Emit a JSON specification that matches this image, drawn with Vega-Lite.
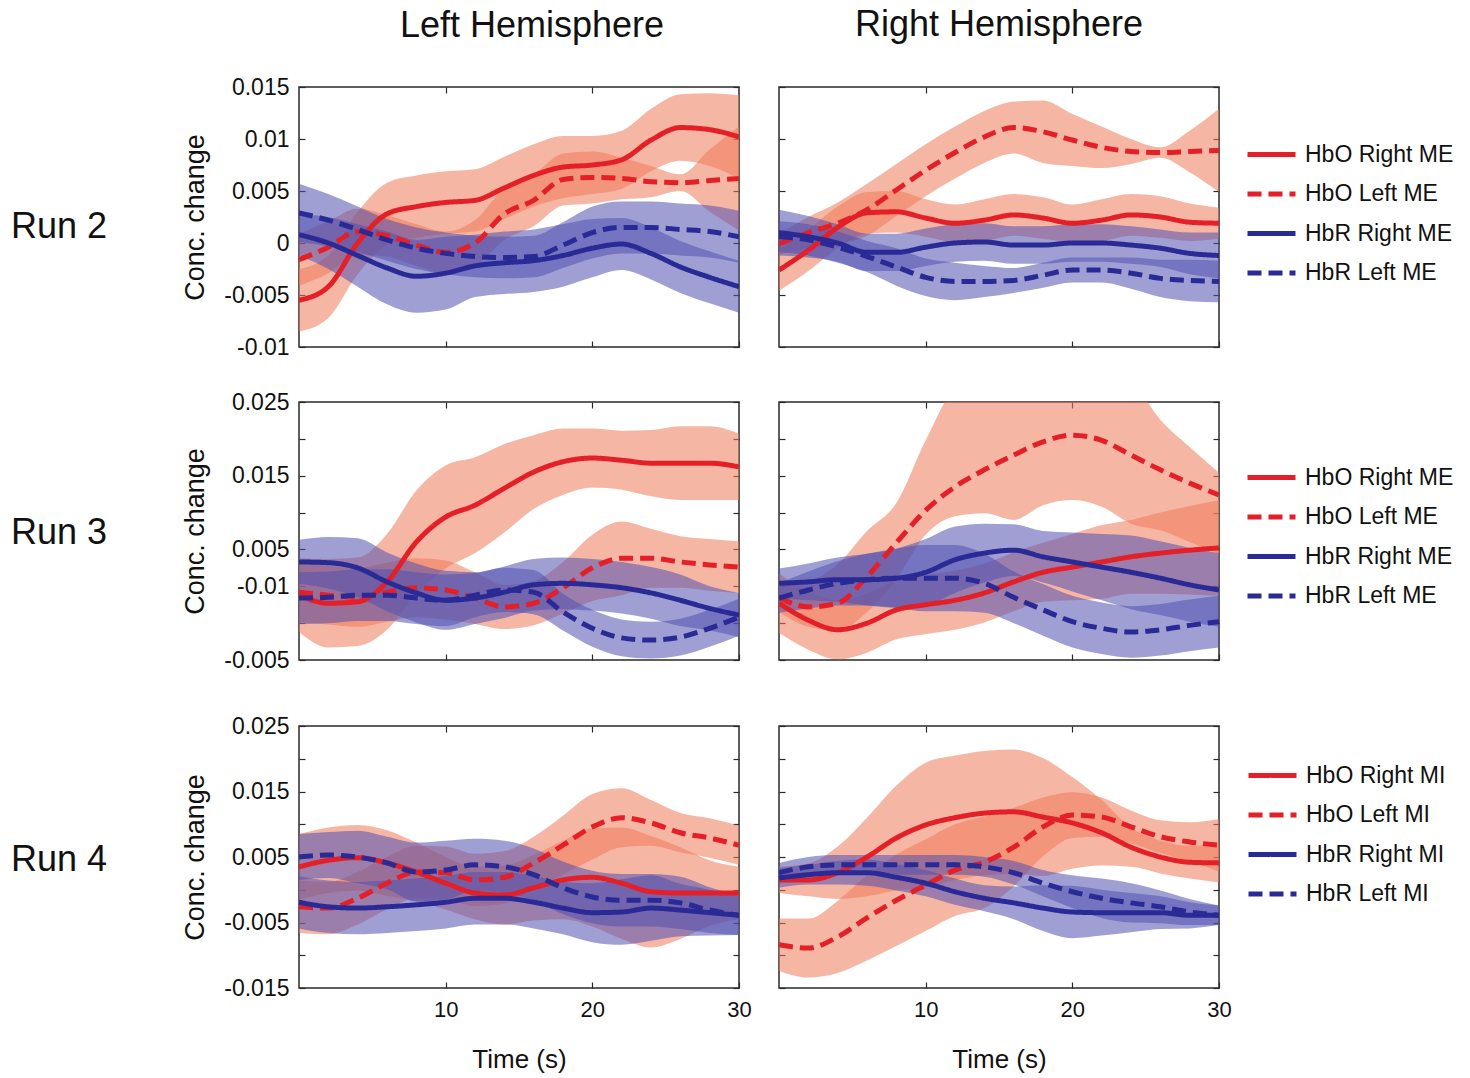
{
"$schema": "https://vega.github.io/schema/vega-lite/v6.json",
"padding": {"left": 10, "top": 6, "right": 10, "bottom": 5},
"config": {
 "font": "Liberation Sans",
 "view": {"stroke": "#2a2a2a", "strokeWidth": 1.5},
 "axis": {"grid": false, "domain": false, "tickSize": -6, "tickColor": "#2a2a2a", "tickWidth": 1.2, "labelFontSize": 23, "labelColor": "#111", "labelPadding": 16, "labelOverlap": false, "labelFlush": false, "titleFontSize": 27, "titleFontWeight": "normal", "titleColor": "#111", "titlePadding": 14},
 "legend": {"symbolType": "stroke", "symbolSize": 2304, "symbolStrokeWidth": 5, "labelFontSize": 23, "labelColor": "#111", "rowPadding": 0.5, "labelOffset": 7, "orient": "right"},
 "title": {"fontSize": 36, "fontWeight": "normal", "color": "#111"}
},
"datasets": {"d": [
{"p":"A","s":"HbO Right ME","t":0,"y":-0.0055,"lo":-0.0085,"hi":-0.0025},
{"p":"A","s":"HbO Right ME","t":2,"y":-0.0042,"lo":-0.0072,"hi":-0.0012},
{"p":"A","s":"HbO Right ME","t":4,"y":0.0000,"lo":-0.0030,"hi":0.0030},
{"p":"A","s":"HbO Right ME","t":6,"y":0.0028,"lo":-0.0002,"hi":0.0058},
{"p":"A","s":"HbO Right ME","t":8,"y":0.0035,"lo":0.0005,"hi":0.0065},
{"p":"A","s":"HbO Right ME","t":10,"y":0.0039,"lo":0.0009,"hi":0.0069},
{"p":"A","s":"HbO Right ME","t":12,"y":0.0041,"lo":0.0011,"hi":0.0071},
{"p":"A","s":"HbO Right ME","t":14,"y":0.0053,"lo":0.0023,"hi":0.0083},
{"p":"A","s":"HbO Right ME","t":16,"y":0.0065,"lo":0.0035,"hi":0.0095},
{"p":"A","s":"HbO Right ME","t":18,"y":0.0073,"lo":0.0043,"hi":0.0103},
{"p":"A","s":"HbO Right ME","t":20,"y":0.0075,"lo":0.0047,"hi":0.0103},
{"p":"A","s":"HbO Right ME","t":22,"y":0.0080,"lo":0.0052,"hi":0.0108},
{"p":"A","s":"HbO Right ME","t":24,"y":0.0099,"lo":0.0069,"hi":0.0129},
{"p":"A","s":"HbO Right ME","t":26,"y":0.0111,"lo":0.0079,"hi":0.0143},
{"p":"A","s":"HbO Right ME","t":28,"y":0.0109,"lo":0.0074,"hi":0.0144},
{"p":"A","s":"HbO Right ME","t":30,"y":0.0102,"lo":0.0062,"hi":0.0142},
{"p":"A","s":"HbO Left ME","t":0,"y":-0.0016,"lo":-0.0041,"hi":0.0009},
{"p":"A","s":"HbO Left ME","t":2,"y":-0.0004,"lo":-0.0029,"hi":0.0021},
{"p":"A","s":"HbO Left ME","t":4,"y":0.0011,"lo":-0.0011,"hi":0.0033},
{"p":"A","s":"HbO Left ME","t":6,"y":0.0007,"lo":-0.0013,"hi":0.0027},
{"p":"A","s":"HbO Left ME","t":8,"y":-0.0002,"lo":-0.0022,"hi":0.0018},
{"p":"A","s":"HbO Left ME","t":10,"y":-0.0009,"lo":-0.0029,"hi":0.0011},
{"p":"A","s":"HbO Left ME","t":12,"y":0.0000,"lo":-0.0022,"hi":0.0022},
{"p":"A","s":"HbO Left ME","t":14,"y":0.0028,"lo":0.0003,"hi":0.0053},
{"p":"A","s":"HbO Left ME","t":16,"y":0.0041,"lo":0.0016,"hi":0.0066},
{"p":"A","s":"HbO Left ME","t":18,"y":0.0061,"lo":0.0036,"hi":0.0086},
{"p":"A","s":"HbO Left ME","t":20,"y":0.0063,"lo":0.0038,"hi":0.0088},
{"p":"A","s":"HbO Left ME","t":22,"y":0.0062,"lo":0.0042,"hi":0.0082},
{"p":"A","s":"HbO Left ME","t":24,"y":0.0059,"lo":0.0044,"hi":0.0074},
{"p":"A","s":"HbO Left ME","t":26,"y":0.0058,"lo":0.0050,"hi":0.0066},
{"p":"A","s":"HbO Left ME","t":28,"y":0.0060,"lo":0.0030,"hi":0.0090},
{"p":"A","s":"HbO Left ME","t":30,"y":0.0062,"lo":0.0012,"hi":0.0112},
{"p":"A","s":"HbR Right ME","t":0,"y":0.0008,"lo":-0.0012,"hi":0.0028},
{"p":"A","s":"HbR Right ME","t":2,"y":0.0000,"lo":-0.0025,"hi":0.0025},
{"p":"A","s":"HbR Right ME","t":4,"y":-0.0012,"lo":-0.0042,"hi":0.0018},
{"p":"A","s":"HbR Right ME","t":6,"y":-0.0024,"lo":-0.0059,"hi":0.0011},
{"p":"A","s":"HbR Right ME","t":8,"y":-0.0032,"lo":-0.0067,"hi":0.0003},
{"p":"A","s":"HbR Right ME","t":10,"y":-0.0029,"lo":-0.0064,"hi":0.0006},
{"p":"A","s":"HbR Right ME","t":12,"y":-0.0022,"lo":-0.0052,"hi":0.0008},
{"p":"A","s":"HbR Right ME","t":14,"y":-0.0019,"lo":-0.0049,"hi":0.0011},
{"p":"A","s":"HbR Right ME","t":16,"y":-0.0017,"lo":-0.0047,"hi":0.0013},
{"p":"A","s":"HbR Right ME","t":18,"y":-0.0012,"lo":-0.0042,"hi":0.0018},
{"p":"A","s":"HbR Right ME","t":20,"y":-0.0005,"lo":-0.0033,"hi":0.0023},
{"p":"A","s":"HbR Right ME","t":22,"y":-0.0001,"lo":-0.0026,"hi":0.0024},
{"p":"A","s":"HbR Right ME","t":24,"y":-0.0010,"lo":-0.0035,"hi":0.0015},
{"p":"A","s":"HbR Right ME","t":26,"y":-0.0023,"lo":-0.0048,"hi":0.0002},
{"p":"A","s":"HbR Right ME","t":28,"y":-0.0033,"lo":-0.0058,"hi":-0.0008},
{"p":"A","s":"HbR Right ME","t":30,"y":-0.0042,"lo":-0.0067,"hi":-0.0017},
{"p":"A","s":"HbR Left ME","t":0,"y":0.0029,"lo":0.0001,"hi":0.0057},
{"p":"A","s":"HbR Left ME","t":2,"y":0.0022,"lo":-0.0003,"hi":0.0047},
{"p":"A","s":"HbR Left ME","t":4,"y":0.0013,"lo":-0.0009,"hi":0.0035},
{"p":"A","s":"HbR Left ME","t":6,"y":0.0003,"lo":-0.0017,"hi":0.0023},
{"p":"A","s":"HbR Left ME","t":8,"y":-0.0005,"lo":-0.0025,"hi":0.0015},
{"p":"A","s":"HbR Left ME","t":10,"y":-0.0010,"lo":-0.0030,"hi":0.0010},
{"p":"A","s":"HbR Left ME","t":12,"y":-0.0013,"lo":-0.0033,"hi":0.0007},
{"p":"A","s":"HbR Left ME","t":14,"y":-0.0014,"lo":-0.0034,"hi":0.0006},
{"p":"A","s":"HbR Left ME","t":16,"y":-0.0013,"lo":-0.0033,"hi":0.0007},
{"p":"A","s":"HbR Left ME","t":18,"y":-0.0002,"lo":-0.0024,"hi":0.0020},
{"p":"A","s":"HbR Left ME","t":20,"y":0.0010,"lo":-0.0015,"hi":0.0035},
{"p":"A","s":"HbR Left ME","t":22,"y":0.0015,"lo":-0.0010,"hi":0.0040},
{"p":"A","s":"HbR Left ME","t":24,"y":0.0015,"lo":-0.0010,"hi":0.0040},
{"p":"A","s":"HbR Left ME","t":26,"y":0.0013,"lo":-0.0012,"hi":0.0038},
{"p":"A","s":"HbR Left ME","t":28,"y":0.0011,"lo":-0.0014,"hi":0.0036},
{"p":"A","s":"HbR Left ME","t":30,"y":0.0006,"lo":-0.0019,"hi":0.0031},
{"p":"B","s":"HbO Right ME","t":0,"y":-0.0026,"lo":-0.0046,"hi":-0.0006},
{"p":"B","s":"HbO Right ME","t":2,"y":-0.0007,"lo":-0.0027,"hi":0.0013},
{"p":"B","s":"HbO Right ME","t":4,"y":0.0015,"lo":-0.0005,"hi":0.0035},
{"p":"B","s":"HbO Right ME","t":6,"y":0.0029,"lo":0.0009,"hi":0.0049},
{"p":"B","s":"HbO Right ME","t":8,"y":0.0030,"lo":0.0010,"hi":0.0050},
{"p":"B","s":"HbO Right ME","t":10,"y":0.0024,"lo":0.0006,"hi":0.0042},
{"p":"B","s":"HbO Right ME","t":12,"y":0.0019,"lo":0.0001,"hi":0.0037},
{"p":"B","s":"HbO Right ME","t":14,"y":0.0022,"lo":0.0002,"hi":0.0042},
{"p":"B","s":"HbO Right ME","t":16,"y":0.0027,"lo":0.0007,"hi":0.0047},
{"p":"B","s":"HbO Right ME","t":18,"y":0.0024,"lo":0.0004,"hi":0.0044},
{"p":"B","s":"HbO Right ME","t":20,"y":0.0019,"lo":0.0001,"hi":0.0037},
{"p":"B","s":"HbO Right ME","t":22,"y":0.0022,"lo":0.0002,"hi":0.0042},
{"p":"B","s":"HbO Right ME","t":24,"y":0.0027,"lo":0.0007,"hi":0.0047},
{"p":"B","s":"HbO Right ME","t":26,"y":0.0025,"lo":0.0005,"hi":0.0045},
{"p":"B","s":"HbO Right ME","t":28,"y":0.0020,"lo":0.0002,"hi":0.0038},
{"p":"B","s":"HbO Right ME","t":30,"y":0.0019,"lo":0.0004,"hi":0.0034},
{"p":"B","s":"HbO Left ME","t":0,"y":-0.0001,"lo":-0.0011,"hi":0.0009},
{"p":"B","s":"HbO Left ME","t":2,"y":0.0010,"lo":-0.0005,"hi":0.0025},
{"p":"B","s":"HbO Left ME","t":4,"y":0.0019,"lo":-0.0001,"hi":0.0039},
{"p":"B","s":"HbO Left ME","t":6,"y":0.0032,"lo":0.0007,"hi":0.0057},
{"p":"B","s":"HbO Left ME","t":8,"y":0.0051,"lo":0.0026,"hi":0.0076},
{"p":"B","s":"HbO Left ME","t":10,"y":0.0070,"lo":0.0045,"hi":0.0095},
{"p":"B","s":"HbO Left ME","t":12,"y":0.0087,"lo":0.0062,"hi":0.0112},
{"p":"B","s":"HbO Left ME","t":14,"y":0.0102,"lo":0.0077,"hi":0.0127},
{"p":"B","s":"HbO Left ME","t":16,"y":0.0111,"lo":0.0086,"hi":0.0136},
{"p":"B","s":"HbO Left ME","t":18,"y":0.0107,"lo":0.0077,"hi":0.0137},
{"p":"B","s":"HbO Left ME","t":20,"y":0.0099,"lo":0.0074,"hi":0.0124},
{"p":"B","s":"HbO Left ME","t":22,"y":0.0092,"lo":0.0072,"hi":0.0112},
{"p":"B","s":"HbO Left ME","t":24,"y":0.0088,"lo":0.0076,"hi":0.0100},
{"p":"B","s":"HbO Left ME","t":26,"y":0.0087,"lo":0.0082,"hi":0.0092},
{"p":"B","s":"HbO Left ME","t":28,"y":0.0088,"lo":0.0068,"hi":0.0108},
{"p":"B","s":"HbO Left ME","t":30,"y":0.0089,"lo":0.0049,"hi":0.0129},
{"p":"B","s":"HbR Right ME","t":0,"y":0.0010,"lo":-0.0012,"hi":0.0032},
{"p":"B","s":"HbR Right ME","t":2,"y":0.0006,"lo":-0.0014,"hi":0.0026},
{"p":"B","s":"HbR Right ME","t":4,"y":0.0000,"lo":-0.0018,"hi":0.0018},
{"p":"B","s":"HbR Right ME","t":6,"y":-0.0009,"lo":-0.0027,"hi":0.0009},
{"p":"B","s":"HbR Right ME","t":8,"y":-0.0009,"lo":-0.0027,"hi":0.0009},
{"p":"B","s":"HbR Right ME","t":10,"y":-0.0004,"lo":-0.0022,"hi":0.0014},
{"p":"B","s":"HbR Right ME","t":12,"y":0.0000,"lo":-0.0018,"hi":0.0018},
{"p":"B","s":"HbR Right ME","t":14,"y":0.0001,"lo":-0.0017,"hi":0.0019},
{"p":"B","s":"HbR Right ME","t":16,"y":-0.0002,"lo":-0.0020,"hi":0.0016},
{"p":"B","s":"HbR Right ME","t":18,"y":-0.0002,"lo":-0.0020,"hi":0.0016},
{"p":"B","s":"HbR Right ME","t":20,"y":0.0000,"lo":-0.0018,"hi":0.0018},
{"p":"B","s":"HbR Right ME","t":22,"y":0.0000,"lo":-0.0018,"hi":0.0018},
{"p":"B","s":"HbR Right ME","t":24,"y":-0.0002,"lo":-0.0020,"hi":0.0016},
{"p":"B","s":"HbR Right ME","t":26,"y":-0.0005,"lo":-0.0023,"hi":0.0013},
{"p":"B","s":"HbR Right ME","t":28,"y":-0.0010,"lo":-0.0030,"hi":0.0010},
{"p":"B","s":"HbR Right ME","t":30,"y":-0.0012,"lo":-0.0034,"hi":0.0010},
{"p":"B","s":"HbR Left ME","t":0,"y":0.0006,"lo":-0.0009,"hi":0.0021},
{"p":"B","s":"HbR Left ME","t":2,"y":0.0003,"lo":-0.0012,"hi":0.0018},
{"p":"B","s":"HbR Left ME","t":4,"y":-0.0004,"lo":-0.0019,"hi":0.0011},
{"p":"B","s":"HbR Left ME","t":6,"y":-0.0013,"lo":-0.0028,"hi":0.0002},
{"p":"B","s":"HbR Left ME","t":8,"y":-0.0023,"lo":-0.0041,"hi":-0.0005},
{"p":"B","s":"HbR Left ME","t":10,"y":-0.0033,"lo":-0.0051,"hi":-0.0015},
{"p":"B","s":"HbR Left ME","t":12,"y":-0.0037,"lo":-0.0055,"hi":-0.0019},
{"p":"B","s":"HbR Left ME","t":14,"y":-0.0037,"lo":-0.0052,"hi":-0.0022},
{"p":"B","s":"HbR Left ME","t":16,"y":-0.0036,"lo":-0.0048,"hi":-0.0024},
{"p":"B","s":"HbR Left ME","t":18,"y":-0.0031,"lo":-0.0043,"hi":-0.0019},
{"p":"B","s":"HbR Left ME","t":20,"y":-0.0026,"lo":-0.0038,"hi":-0.0014},
{"p":"B","s":"HbR Left ME","t":22,"y":-0.0026,"lo":-0.0038,"hi":-0.0014},
{"p":"B","s":"HbR Left ME","t":24,"y":-0.0029,"lo":-0.0044,"hi":-0.0014},
{"p":"B","s":"HbR Left ME","t":26,"y":-0.0034,"lo":-0.0052,"hi":-0.0016},
{"p":"B","s":"HbR Left ME","t":28,"y":-0.0036,"lo":-0.0056,"hi":-0.0016},
{"p":"B","s":"HbR Left ME","t":30,"y":-0.0037,"lo":-0.0057,"hi":-0.0017},
{"p":"C","s":"HbO Right ME","t":0,"y":-0.0012,"lo":-0.0062,"hi":0.0038},
{"p":"C","s":"HbO Right ME","t":2,"y":-0.0023,"lo":-0.0083,"hi":0.0037},
{"p":"C","s":"HbO Right ME","t":4,"y":-0.0021,"lo":-0.0081,"hi":0.0039},
{"p":"C","s":"HbO Right ME","t":6,"y":0.0006,"lo":-0.0059,"hi":0.0071},
{"p":"C","s":"HbO Right ME","t":8,"y":0.0060,"lo":-0.0010,"hi":0.0130},
{"p":"C","s":"HbO Right ME","t":10,"y":0.0094,"lo":0.0024,"hi":0.0164},
{"p":"C","s":"HbO Right ME","t":12,"y":0.0110,"lo":0.0045,"hi":0.0175},
{"p":"C","s":"HbO Right ME","t":14,"y":0.0133,"lo":0.0073,"hi":0.0193},
{"p":"C","s":"HbO Right ME","t":16,"y":0.0155,"lo":0.0105,"hi":0.0205},
{"p":"C","s":"HbO Right ME","t":18,"y":0.0169,"lo":0.0124,"hi":0.0214},
{"p":"C","s":"HbO Right ME","t":20,"y":0.0174,"lo":0.0134,"hi":0.0214},
{"p":"C","s":"HbO Right ME","t":22,"y":0.0171,"lo":0.0131,"hi":0.0211},
{"p":"C","s":"HbO Right ME","t":24,"y":0.0167,"lo":0.0122,"hi":0.0212},
{"p":"C","s":"HbO Right ME","t":26,"y":0.0167,"lo":0.0117,"hi":0.0217},
{"p":"C","s":"HbO Right ME","t":28,"y":0.0167,"lo":0.0117,"hi":0.0217},
{"p":"C","s":"HbO Right ME","t":30,"y":0.0162,"lo":0.0117,"hi":0.0207},
{"p":"C","s":"HbO Left ME","t":0,"y":-0.0008,"lo":-0.0048,"hi":0.0032},
{"p":"C","s":"HbO Left ME","t":2,"y":-0.0012,"lo":-0.0052,"hi":0.0028},
{"p":"C","s":"HbO Left ME","t":4,"y":-0.0015,"lo":-0.0055,"hi":0.0025},
{"p":"C","s":"HbO Left ME","t":6,"y":-0.0008,"lo":-0.0048,"hi":0.0032},
{"p":"C","s":"HbO Left ME","t":8,"y":-0.0002,"lo":-0.0042,"hi":0.0038},
{"p":"C","s":"HbO Left ME","t":10,"y":-0.0005,"lo":-0.0045,"hi":0.0035},
{"p":"C","s":"HbO Left ME","t":12,"y":-0.0016,"lo":-0.0051,"hi":0.0019},
{"p":"C","s":"HbO Left ME","t":14,"y":-0.0028,"lo":-0.0058,"hi":0.0002},
{"p":"C","s":"HbO Left ME","t":16,"y":-0.0023,"lo":-0.0053,"hi":0.0007},
{"p":"C","s":"HbO Left ME","t":18,"y":-0.0002,"lo":-0.0037,"hi":0.0033},
{"p":"C","s":"HbO Left ME","t":20,"y":0.0025,"lo":-0.0020,"hi":0.0070},
{"p":"C","s":"HbO Left ME","t":22,"y":0.0038,"lo":-0.0012,"hi":0.0088},
{"p":"C","s":"HbO Left ME","t":24,"y":0.0038,"lo":-0.0002,"hi":0.0078},
{"p":"C","s":"HbO Left ME","t":26,"y":0.0033,"lo":-0.0002,"hi":0.0068},
{"p":"C","s":"HbO Left ME","t":28,"y":0.0029,"lo":-0.0006,"hi":0.0064},
{"p":"C","s":"HbO Left ME","t":30,"y":0.0026,"lo":-0.0009,"hi":0.0061},
{"p":"C","s":"HbR Right ME","t":0,"y":0.0033,"lo":0.0003,"hi":0.0063},
{"p":"C","s":"HbR Right ME","t":2,"y":0.0032,"lo":-0.0003,"hi":0.0067},
{"p":"C","s":"HbR Right ME","t":4,"y":0.0025,"lo":-0.0015,"hi":0.0065},
{"p":"C","s":"HbR Right ME","t":6,"y":0.0006,"lo":-0.0034,"hi":0.0046},
{"p":"C","s":"HbR Right ME","t":8,"y":-0.0009,"lo":-0.0049,"hi":0.0031},
{"p":"C","s":"HbR Right ME","t":10,"y":-0.0019,"lo":-0.0059,"hi":0.0021},
{"p":"C","s":"HbR Right ME","t":12,"y":-0.0016,"lo":-0.0051,"hi":0.0019},
{"p":"C","s":"HbR Right ME","t":14,"y":-0.0008,"lo":-0.0043,"hi":0.0027},
{"p":"C","s":"HbR Right ME","t":16,"y":0.0002,"lo":-0.0033,"hi":0.0037},
{"p":"C","s":"HbR Right ME","t":18,"y":0.0004,"lo":-0.0031,"hi":0.0039},
{"p":"C","s":"HbR Right ME","t":20,"y":0.0002,"lo":-0.0033,"hi":0.0037},
{"p":"C","s":"HbR Right ME","t":22,"y":-0.0002,"lo":-0.0037,"hi":0.0033},
{"p":"C","s":"HbR Right ME","t":24,"y":-0.0009,"lo":-0.0044,"hi":0.0026},
{"p":"C","s":"HbR Right ME","t":26,"y":-0.0019,"lo":-0.0054,"hi":0.0016},
{"p":"C","s":"HbR Right ME","t":28,"y":-0.0030,"lo":-0.0060,"hi":0.0000},
{"p":"C","s":"HbR Right ME","t":30,"y":-0.0039,"lo":-0.0069,"hi":-0.0009},
{"p":"C","s":"HbR Left ME","t":0,"y":-0.0016,"lo":-0.0051,"hi":0.0019},
{"p":"C","s":"HbR Left ME","t":2,"y":-0.0015,"lo":-0.0050,"hi":0.0020},
{"p":"C","s":"HbR Left ME","t":4,"y":-0.0012,"lo":-0.0047,"hi":0.0023},
{"p":"C","s":"HbR Left ME","t":6,"y":-0.0012,"lo":-0.0047,"hi":0.0023},
{"p":"C","s":"HbR Left ME","t":8,"y":-0.0016,"lo":-0.0051,"hi":0.0019},
{"p":"C","s":"HbR Left ME","t":10,"y":-0.0019,"lo":-0.0054,"hi":0.0016},
{"p":"C","s":"HbR Left ME","t":12,"y":-0.0012,"lo":-0.0042,"hi":0.0018},
{"p":"C","s":"HbR Left ME","t":14,"y":-0.0005,"lo":-0.0035,"hi":0.0025},
{"p":"C","s":"HbR Left ME","t":16,"y":-0.0008,"lo":-0.0038,"hi":0.0022},
{"p":"C","s":"HbR Left ME","t":18,"y":-0.0035,"lo":-0.0060,"hi":-0.0010},
{"p":"C","s":"HbR Left ME","t":20,"y":-0.0057,"lo":-0.0082,"hi":-0.0032},
{"p":"C","s":"HbR Left ME","t":22,"y":-0.0070,"lo":-0.0095,"hi":-0.0045},
{"p":"C","s":"HbR Left ME","t":24,"y":-0.0073,"lo":-0.0098,"hi":-0.0048},
{"p":"C","s":"HbR Left ME","t":26,"y":-0.0069,"lo":-0.0094,"hi":-0.0044},
{"p":"C","s":"HbR Left ME","t":28,"y":-0.0057,"lo":-0.0082,"hi":-0.0032},
{"p":"C","s":"HbR Left ME","t":30,"y":-0.0042,"lo":-0.0067,"hi":-0.0017},
{"p":"D","s":"HbO Right ME","t":0,"y":-0.0023,"lo":-0.0063,"hi":0.0017},
{"p":"D","s":"HbO Right ME","t":2,"y":-0.0046,"lo":-0.0086,"hi":-0.0006},
{"p":"D","s":"HbO Right ME","t":4,"y":-0.0059,"lo":-0.0099,"hi":-0.0019},
{"p":"D","s":"HbO Right ME","t":6,"y":-0.0050,"lo":-0.0090,"hi":-0.0010},
{"p":"D","s":"HbO Right ME","t":8,"y":-0.0032,"lo":-0.0072,"hi":0.0008},
{"p":"D","s":"HbO Right ME","t":10,"y":-0.0025,"lo":-0.0065,"hi":0.0015},
{"p":"D","s":"HbO Right ME","t":12,"y":-0.0019,"lo":-0.0059,"hi":0.0021},
{"p":"D","s":"HbO Right ME","t":14,"y":-0.0009,"lo":-0.0049,"hi":0.0031},
{"p":"D","s":"HbO Right ME","t":16,"y":0.0006,"lo":-0.0034,"hi":0.0046},
{"p":"D","s":"HbO Right ME","t":18,"y":0.0019,"lo":-0.0021,"hi":0.0059},
{"p":"D","s":"HbO Right ME","t":20,"y":0.0026,"lo":-0.0019,"hi":0.0071},
{"p":"D","s":"HbO Right ME","t":22,"y":0.0033,"lo":-0.0017,"hi":0.0083},
{"p":"D","s":"HbO Right ME","t":24,"y":0.0040,"lo":-0.0010,"hi":0.0090},
{"p":"D","s":"HbO Right ME","t":26,"y":0.0045,"lo":-0.0010,"hi":0.0100},
{"p":"D","s":"HbO Right ME","t":28,"y":0.0049,"lo":-0.0011,"hi":0.0109},
{"p":"D","s":"HbO Right ME","t":30,"y":0.0052,"lo":-0.0013,"hi":0.0117},
{"p":"D","s":"HbO Left ME","t":0,"y":-0.0015,"lo":-0.0035,"hi":0.0005},
{"p":"D","s":"HbO Left ME","t":2,"y":-0.0028,"lo":-0.0055,"hi":0.0008},
{"p":"D","s":"HbO Left ME","t":4,"y":-0.0023,"lo":-0.0060,"hi":0.0030},
{"p":"D","s":"HbO Left ME","t":6,"y":0.0013,"lo":-0.0035,"hi":0.0075},
{"p":"D","s":"HbO Left ME","t":8,"y":0.0059,"lo":0.0010,"hi":0.0113},
{"p":"D","s":"HbO Left ME","t":10,"y":0.0103,"lo":0.0070,"hi":0.0198},
{"p":"D","s":"HbO Left ME","t":12,"y":0.0135,"lo":0.0095,"hi":0.0270},
{"p":"D","s":"HbO Left ME","t":14,"y":0.0158,"lo":0.0099,"hi":0.0290},
{"p":"D","s":"HbO Left ME","t":16,"y":0.0178,"lo":0.0090,"hi":0.0300},
{"p":"D","s":"HbO Left ME","t":18,"y":0.0196,"lo":0.0110,"hi":0.0300},
{"p":"D","s":"HbO Left ME","t":20,"y":0.0205,"lo":0.0117,"hi":0.0300},
{"p":"D","s":"HbO Left ME","t":22,"y":0.0198,"lo":0.0108,"hi":0.0300},
{"p":"D","s":"HbO Left ME","t":24,"y":0.0178,"lo":0.0085,"hi":0.0280},
{"p":"D","s":"HbO Left ME","t":26,"y":0.0158,"lo":0.0076,"hi":0.0226},
{"p":"D","s":"HbO Left ME","t":28,"y":0.0140,"lo":0.0060,"hi":0.0189},
{"p":"D","s":"HbO Left ME","t":30,"y":0.0124,"lo":0.0044,"hi":0.0154},
{"p":"D","s":"HbR Right ME","t":0,"y":0.0004,"lo":-0.0016,"hi":0.0024},
{"p":"D","s":"HbR Right ME","t":2,"y":0.0006,"lo":-0.0019,"hi":0.0031},
{"p":"D","s":"HbR Right ME","t":4,"y":0.0009,"lo":-0.0021,"hi":0.0039},
{"p":"D","s":"HbR Right ME","t":6,"y":0.0009,"lo":-0.0026,"hi":0.0044},
{"p":"D","s":"HbR Right ME","t":8,"y":0.0011,"lo":-0.0029,"hi":0.0051},
{"p":"D","s":"HbR Right ME","t":10,"y":0.0019,"lo":-0.0026,"hi":0.0064},
{"p":"D","s":"HbR Right ME","t":12,"y":0.0036,"lo":-0.0009,"hi":0.0081},
{"p":"D","s":"HbR Right ME","t":14,"y":0.0045,"lo":0.0005,"hi":0.0085},
{"p":"D","s":"HbR Right ME","t":16,"y":0.0049,"lo":0.0014,"hi":0.0084},
{"p":"D","s":"HbR Right ME","t":18,"y":0.0040,"lo":0.0005,"hi":0.0075},
{"p":"D","s":"HbR Right ME","t":20,"y":0.0033,"lo":-0.0007,"hi":0.0073},
{"p":"D","s":"HbR Right ME","t":22,"y":0.0026,"lo":-0.0019,"hi":0.0071},
{"p":"D","s":"HbR Right ME","t":24,"y":0.0019,"lo":-0.0031,"hi":0.0069},
{"p":"D","s":"HbR Right ME","t":26,"y":0.0011,"lo":-0.0039,"hi":0.0061},
{"p":"D","s":"HbR Right ME","t":28,"y":0.0002,"lo":-0.0048,"hi":0.0052},
{"p":"D","s":"HbR Right ME","t":30,"y":-0.0005,"lo":-0.0055,"hi":0.0045},
{"p":"D","s":"HbR Left ME","t":0,"y":-0.0016,"lo":-0.0036,"hi":0.0004},
{"p":"D","s":"HbR Left ME","t":2,"y":-0.0005,"lo":-0.0030,"hi":0.0020},
{"p":"D","s":"HbR Left ME","t":4,"y":0.0004,"lo":-0.0026,"hi":0.0034},
{"p":"D","s":"HbR Left ME","t":6,"y":0.0009,"lo":-0.0026,"hi":0.0044},
{"p":"D","s":"HbR Left ME","t":8,"y":0.0011,"lo":-0.0029,"hi":0.0051},
{"p":"D","s":"HbR Left ME","t":10,"y":0.0011,"lo":-0.0034,"hi":0.0056},
{"p":"D","s":"HbR Left ME","t":12,"y":0.0011,"lo":-0.0034,"hi":0.0056},
{"p":"D","s":"HbR Left ME","t":14,"y":0.0004,"lo":-0.0036,"hi":0.0044},
{"p":"D","s":"HbR Left ME","t":16,"y":-0.0015,"lo":-0.0050,"hi":0.0020},
{"p":"D","s":"HbR Left ME","t":18,"y":-0.0032,"lo":-0.0067,"hi":0.0003},
{"p":"D","s":"HbR Left ME","t":20,"y":-0.0048,"lo":-0.0083,"hi":-0.0013},
{"p":"D","s":"HbR Left ME","t":22,"y":-0.0057,"lo":-0.0092,"hi":-0.0022},
{"p":"D","s":"HbR Left ME","t":24,"y":-0.0062,"lo":-0.0097,"hi":-0.0027},
{"p":"D","s":"HbR Left ME","t":26,"y":-0.0059,"lo":-0.0094,"hi":-0.0024},
{"p":"D","s":"HbR Left ME","t":28,"y":-0.0053,"lo":-0.0088,"hi":-0.0018},
{"p":"D","s":"HbR Left ME","t":30,"y":-0.0048,"lo":-0.0083,"hi":-0.0013},
{"p":"E","s":"HbO Right MI","t":0,"y":0.0035,"lo":-0.0015,"hi":0.0085},
{"p":"E","s":"HbO Right MI","t":2,"y":0.0045,"lo":-0.0005,"hi":0.0095},
{"p":"E","s":"HbO Right MI","t":4,"y":0.0049,"lo":-0.0001,"hi":0.0099},
{"p":"E","s":"HbO Right MI","t":6,"y":0.0041,"lo":-0.0009,"hi":0.0091},
{"p":"E","s":"HbO Right MI","t":8,"y":0.0027,"lo":-0.0018,"hi":0.0072},
{"p":"E","s":"HbO Right MI","t":10,"y":0.0010,"lo":-0.0030,"hi":0.0050},
{"p":"E","s":"HbO Right MI","t":12,"y":-0.0005,"lo":-0.0045,"hi":0.0035},
{"p":"E","s":"HbO Right MI","t":14,"y":-0.0008,"lo":-0.0053,"hi":0.0037},
{"p":"E","s":"HbO Right MI","t":16,"y":0.0003,"lo":-0.0047,"hi":0.0053},
{"p":"E","s":"HbO Right MI","t":18,"y":0.0015,"lo":-0.0045,"hi":0.0075},
{"p":"E","s":"HbO Right MI","t":20,"y":0.0019,"lo":-0.0056,"hi":0.0094},
{"p":"E","s":"HbO Right MI","t":22,"y":0.0010,"lo":-0.0075,"hi":0.0095},
{"p":"E","s":"HbO Right MI","t":24,"y":-0.0003,"lo":-0.0088,"hi":0.0082},
{"p":"E","s":"HbO Right MI","t":26,"y":-0.0005,"lo":-0.0075,"hi":0.0065},
{"p":"E","s":"HbO Right MI","t":28,"y":-0.0005,"lo":-0.0055,"hi":0.0045},
{"p":"E","s":"HbO Right MI","t":30,"y":-0.0005,"lo":-0.0045,"hi":0.0035},
{"p":"E","s":"HbO Left MI","t":0,"y":-0.0026,"lo":-0.0066,"hi":0.0014},
{"p":"E","s":"HbO Left MI","t":2,"y":-0.0028,"lo":-0.0068,"hi":0.0012},
{"p":"E","s":"HbO Left MI","t":4,"y":-0.0013,"lo":-0.0053,"hi":0.0027},
{"p":"E","s":"HbO Left MI","t":6,"y":0.0010,"lo":-0.0030,"hi":0.0050},
{"p":"E","s":"HbO Left MI","t":8,"y":0.0027,"lo":-0.0013,"hi":0.0067},
{"p":"E","s":"HbO Left MI","t":10,"y":0.0026,"lo":-0.0014,"hi":0.0066},
{"p":"E","s":"HbO Left MI","t":12,"y":0.0015,"lo":-0.0025,"hi":0.0055},
{"p":"E","s":"HbO Left MI","t":14,"y":0.0019,"lo":-0.0021,"hi":0.0059},
{"p":"E","s":"HbO Left MI","t":16,"y":0.0041,"lo":0.0001,"hi":0.0081},
{"p":"E","s":"HbO Left MI","t":18,"y":0.0068,"lo":0.0023,"hi":0.0113},
{"p":"E","s":"HbO Left MI","t":20,"y":0.0096,"lo":0.0046,"hi":0.0146},
{"p":"E","s":"HbO Left MI","t":22,"y":0.0110,"lo":0.0065,"hi":0.0155},
{"p":"E","s":"HbO Left MI","t":24,"y":0.0102,"lo":0.0067,"hi":0.0137},
{"p":"E","s":"HbO Left MI","t":26,"y":0.0087,"lo":0.0057,"hi":0.0117},
{"p":"E","s":"HbO Left MI","t":28,"y":0.0079,"lo":0.0049,"hi":0.0109},
{"p":"E","s":"HbO Left MI","t":30,"y":0.0068,"lo":0.0038,"hi":0.0098},
{"p":"E","s":"HbR Right MI","t":0,"y":-0.0019,"lo":-0.0059,"hi":0.0021},
{"p":"E","s":"HbR Right MI","t":2,"y":-0.0026,"lo":-0.0066,"hi":0.0014},
{"p":"E","s":"HbR Right MI","t":4,"y":-0.0028,"lo":-0.0068,"hi":0.0012},
{"p":"E","s":"HbR Right MI","t":6,"y":-0.0026,"lo":-0.0066,"hi":0.0014},
{"p":"E","s":"HbR Right MI","t":8,"y":-0.0023,"lo":-0.0063,"hi":0.0017},
{"p":"E","s":"HbR Right MI","t":10,"y":-0.0019,"lo":-0.0059,"hi":0.0021},
{"p":"E","s":"HbR Right MI","t":12,"y":-0.0013,"lo":-0.0053,"hi":0.0027},
{"p":"E","s":"HbR Right MI","t":14,"y":-0.0013,"lo":-0.0053,"hi":0.0027},
{"p":"E","s":"HbR Right MI","t":16,"y":-0.0019,"lo":-0.0059,"hi":0.0021},
{"p":"E","s":"HbR Right MI","t":18,"y":-0.0028,"lo":-0.0068,"hi":0.0012},
{"p":"E","s":"HbR Right MI","t":20,"y":-0.0035,"lo":-0.0080,"hi":0.0010},
{"p":"E","s":"HbR Right MI","t":22,"y":-0.0034,"lo":-0.0084,"hi":0.0016},
{"p":"E","s":"HbR Right MI","t":24,"y":-0.0028,"lo":-0.0078,"hi":0.0022},
{"p":"E","s":"HbR Right MI","t":26,"y":-0.0031,"lo":-0.0071,"hi":0.0009},
{"p":"E","s":"HbR Right MI","t":28,"y":-0.0035,"lo":-0.0070,"hi":0.0000},
{"p":"E","s":"HbR Right MI","t":30,"y":-0.0039,"lo":-0.0069,"hi":-0.0009},
{"p":"E","s":"HbR Left MI","t":0,"y":0.0050,"lo":0.0015,"hi":0.0085},
{"p":"E","s":"HbR Left MI","t":2,"y":0.0053,"lo":0.0018,"hi":0.0088},
{"p":"E","s":"HbR Left MI","t":4,"y":0.0050,"lo":0.0010,"hi":0.0090},
{"p":"E","s":"HbR Left MI","t":6,"y":0.0041,"lo":0.0001,"hi":0.0081},
{"p":"E","s":"HbR Left MI","t":8,"y":0.0027,"lo":-0.0018,"hi":0.0072},
{"p":"E","s":"HbR Left MI","t":10,"y":0.0030,"lo":-0.0015,"hi":0.0075},
{"p":"E","s":"HbR Left MI","t":12,"y":0.0038,"lo":-0.0002,"hi":0.0078},
{"p":"E","s":"HbR Left MI","t":14,"y":0.0035,"lo":-0.0005,"hi":0.0075},
{"p":"E","s":"HbR Left MI","t":16,"y":0.0023,"lo":-0.0017,"hi":0.0063},
{"p":"E","s":"HbR Left MI","t":18,"y":0.0003,"lo":-0.0037,"hi":0.0043},
{"p":"E","s":"HbR Left MI","t":20,"y":-0.0011,"lo":-0.0051,"hi":0.0029},
{"p":"E","s":"HbR Left MI","t":22,"y":-0.0016,"lo":-0.0056,"hi":0.0024},
{"p":"E","s":"HbR Left MI","t":24,"y":-0.0016,"lo":-0.0056,"hi":0.0024},
{"p":"E","s":"HbR Left MI","t":26,"y":-0.0020,"lo":-0.0060,"hi":0.0020},
{"p":"E","s":"HbR Left MI","t":28,"y":-0.0031,"lo":-0.0066,"hi":0.0004},
{"p":"E","s":"HbR Left MI","t":30,"y":-0.0039,"lo":-0.0069,"hi":-0.0009},
{"p":"F","s":"HbO Right MI","t":0,"y":0.0015,"lo":-0.0005,"hi":0.0035},
{"p":"F","s":"HbO Right MI","t":2,"y":0.0015,"lo":-0.0010,"hi":0.0040},
{"p":"F","s":"HbO Right MI","t":4,"y":0.0026,"lo":-0.0014,"hi":0.0066},
{"p":"F","s":"HbO Right MI","t":6,"y":0.0050,"lo":-0.0010,"hi":0.0110},
{"p":"F","s":"HbO Right MI","t":8,"y":0.0079,"lo":-0.0001,"hi":0.0159},
{"p":"F","s":"HbO Right MI","t":10,"y":0.0099,"lo":0.0004,"hi":0.0194},
{"p":"F","s":"HbO Right MI","t":12,"y":0.0110,"lo":0.0015,"hi":0.0205},
{"p":"F","s":"HbO Right MI","t":14,"y":0.0117,"lo":0.0022,"hi":0.0212},
{"p":"F","s":"HbO Right MI","t":16,"y":0.0119,"lo":0.0024,"hi":0.0214},
{"p":"F","s":"HbO Right MI","t":18,"y":0.0111,"lo":0.0021,"hi":0.0201},
{"p":"F","s":"HbO Right MI","t":20,"y":0.0102,"lo":0.0032,"hi":0.0172},
{"p":"F","s":"HbO Right MI","t":22,"y":0.0087,"lo":0.0037,"hi":0.0137},
{"p":"F","s":"HbO Right MI","t":24,"y":0.0065,"lo":0.0035,"hi":0.0095},
{"p":"F","s":"HbO Right MI","t":26,"y":0.0050,"lo":0.0025,"hi":0.0075},
{"p":"F","s":"HbO Right MI","t":28,"y":0.0042,"lo":0.0017,"hi":0.0067},
{"p":"F","s":"HbO Right MI","t":30,"y":0.0041,"lo":0.0011,"hi":0.0071},
{"p":"F","s":"HbO Left MI","t":0,"y":-0.0084,"lo":-0.0124,"hi":-0.0044},
{"p":"F","s":"HbO Left MI","t":2,"y":-0.0089,"lo":-0.0134,"hi":-0.0044},
{"p":"F","s":"HbO Left MI","t":4,"y":-0.0072,"lo":-0.0127,"hi":-0.0017},
{"p":"F","s":"HbO Left MI","t":6,"y":-0.0043,"lo":-0.0108,"hi":0.0022},
{"p":"F","s":"HbO Left MI","t":8,"y":-0.0016,"lo":-0.0086,"hi":0.0054},
{"p":"F","s":"HbO Left MI","t":10,"y":0.0007,"lo":-0.0063,"hi":0.0077},
{"p":"F","s":"HbO Left MI","t":12,"y":0.0030,"lo":-0.0040,"hi":0.0100},
{"p":"F","s":"HbO Left MI","t":14,"y":0.0042,"lo":-0.0028,"hi":0.0112},
{"p":"F","s":"HbO Left MI","t":16,"y":0.0065,"lo":0.0005,"hi":0.0125},
{"p":"F","s":"HbO Left MI","t":18,"y":0.0096,"lo":0.0051,"hi":0.0141},
{"p":"F","s":"HbO Left MI","t":20,"y":0.0114,"lo":0.0079,"hi":0.0149},
{"p":"F","s":"HbO Left MI","t":22,"y":0.0111,"lo":0.0081,"hi":0.0141},
{"p":"F","s":"HbO Left MI","t":24,"y":0.0096,"lo":0.0071,"hi":0.0121},
{"p":"F","s":"HbO Left MI","t":26,"y":0.0081,"lo":0.0056,"hi":0.0106},
{"p":"F","s":"HbO Left MI","t":28,"y":0.0073,"lo":0.0043,"hi":0.0103},
{"p":"F","s":"HbO Left MI","t":30,"y":0.0068,"lo":0.0028,"hi":0.0108},
{"p":"F","s":"HbR Right MI","t":0,"y":0.0018,"lo":0.0003,"hi":0.0033},
{"p":"F","s":"HbR Right MI","t":2,"y":0.0023,"lo":0.0008,"hi":0.0038},
{"p":"F","s":"HbR Right MI","t":4,"y":0.0026,"lo":0.0008,"hi":0.0044},
{"p":"F","s":"HbR Right MI","t":6,"y":0.0026,"lo":0.0006,"hi":0.0046},
{"p":"F","s":"HbR Right MI","t":8,"y":0.0019,"lo":-0.0001,"hi":0.0039},
{"p":"F","s":"HbR Right MI","t":10,"y":0.0010,"lo":-0.0010,"hi":0.0030},
{"p":"F","s":"HbR Right MI","t":12,"y":-0.0003,"lo":-0.0023,"hi":0.0017},
{"p":"F","s":"HbR Right MI","t":14,"y":-0.0013,"lo":-0.0033,"hi":0.0007},
{"p":"F","s":"HbR Right MI","t":16,"y":-0.0020,"lo":-0.0045,"hi":0.0005},
{"p":"F","s":"HbR Right MI","t":18,"y":-0.0028,"lo":-0.0063,"hi":0.0007},
{"p":"F","s":"HbR Right MI","t":20,"y":-0.0034,"lo":-0.0074,"hi":0.0006},
{"p":"F","s":"HbR Right MI","t":22,"y":-0.0035,"lo":-0.0070,"hi":0.0000},
{"p":"F","s":"HbR Right MI","t":24,"y":-0.0035,"lo":-0.0065,"hi":-0.0005},
{"p":"F","s":"HbR Right MI","t":26,"y":-0.0035,"lo":-0.0060,"hi":-0.0010},
{"p":"F","s":"HbR Right MI","t":28,"y":-0.0039,"lo":-0.0059,"hi":-0.0019},
{"p":"F","s":"HbR Right MI","t":30,"y":-0.0039,"lo":-0.0054,"hi":-0.0024},
{"p":"F","s":"HbR Left MI","t":0,"y":0.0026,"lo":0.0011,"hi":0.0041},
{"p":"F","s":"HbR Left MI","t":2,"y":0.0035,"lo":0.0020,"hi":0.0050},
{"p":"F","s":"HbR Left MI","t":4,"y":0.0038,"lo":0.0023,"hi":0.0053},
{"p":"F","s":"HbR Left MI","t":6,"y":0.0038,"lo":0.0023,"hi":0.0053},
{"p":"F","s":"HbR Left MI","t":8,"y":0.0038,"lo":0.0023,"hi":0.0053},
{"p":"F","s":"HbR Left MI","t":10,"y":0.0038,"lo":0.0023,"hi":0.0053},
{"p":"F","s":"HbR Left MI","t":12,"y":0.0038,"lo":0.0023,"hi":0.0053},
{"p":"F","s":"HbR Left MI","t":14,"y":0.0035,"lo":0.0020,"hi":0.0050},
{"p":"F","s":"HbR Left MI","t":16,"y":0.0026,"lo":0.0008,"hi":0.0044},
{"p":"F","s":"HbR Left MI","t":18,"y":0.0010,"lo":-0.0010,"hi":0.0030},
{"p":"F","s":"HbR Left MI","t":20,"y":-0.0003,"lo":-0.0028,"hi":0.0022},
{"p":"F","s":"HbR Left MI","t":22,"y":-0.0013,"lo":-0.0043,"hi":0.0017},
{"p":"F","s":"HbR Left MI","t":24,"y":-0.0020,"lo":-0.0050,"hi":0.0010},
{"p":"F","s":"HbR Left MI","t":26,"y":-0.0026,"lo":-0.0051,"hi":-0.0001},
{"p":"F","s":"HbR Left MI","t":28,"y":-0.0034,"lo":-0.0054,"hi":-0.0014},
{"p":"F","s":"HbR Left MI","t":30,"y":-0.0039,"lo":-0.0054,"hi":-0.0024}
]},
"spacing": 30,
"resolve": {"scale": {"color": "independent", "strokeDash": "independent", "fill": "independent"}},
"vconcat": [
{
 "title": {"text": "Run 2", "orient": "left", "angle": 0, "align": "left", "baseline": "middle", "anchor": "middle", "frame": "group", "offset": 74, "dy": 140, "fontSize": 36},
 "spacing": 36,
 "hconcat": [
 {
  "width": 440, "height": 260,
  "title": {"text": "Left Hemisphere", "frame": "group", "anchor": "middle", "offset": 31, "dx": 13},
  "data": {"name": "d"},
  "transform": [{"filter": "datum.p == 'A'"}],
  "resolve": {"axis": {"x": "independent", "y": "independent"}},
  "layer": [
   {"mark": {"type": "area", "interpolate": "monotone", "opacity": 0.55, "clip": true},
    "encoding": {
     "x": {"field": "t", "type": "quantitative", "scale": {"domain": [0, 30], "nice": false, "zero": false}, "axis": {"orient": "bottom", "values": [10, 20, 30], "labels": false, "title": null}},
     "y": {"field": "lo", "type": "quantitative", "scale": {"domain": [-0.01, 0.015], "nice": false, "zero": false}, "axis": {"orient": "left", "values": [-0.01, -0.005, 0, 0.005, 0.01, 0.015], "labelExpr": "['-0.01','-0.005','0','0.005','0.01','0.015'][round(datum.value*200)+2]", "title": "Conc. change"}},
     "y2": {"field": "hi"},
     "fill": {"field": "s", "type": "nominal", "scale": {"range": ["#ee7a5a", "#ee7a5a", "#5050b0", "#5050b0"]}, "legend": null}
    }},
   {"mark": {"type": "line", "interpolate": "monotone", "strokeWidth": 5, "clip": true},
    "encoding": {
     "x": {"field": "t", "type": "quantitative", "scale": {"domain": [0, 30], "nice": false, "zero": false}, "axis": {"orient": "top", "values": [10, 20], "labels": false, "title": null}},
     "y": {"field": "y", "type": "quantitative", "scale": {"domain": [-0.01, 0.015], "nice": false, "zero": false}, "axis": {"orient": "right", "values": [-0.01, -0.005, 0, 0.005, 0.01, 0.015], "labels": false, "title": null}},
     "color": {"field": "s", "type": "nominal", "scale": {"domain": ["HbO Right ME", "HbO Left ME", "HbR Right ME", "HbR Left ME"], "range": ["#e41f27", "#e41f27", "#2a2a96", "#2a2a96"]}, "legend": {"title": null, "offset": -17, "padding": 41}},
     "strokeDash": {"field": "s", "type": "nominal", "scale": {"domain": ["HbO Right ME", "HbO Left ME", "HbR Right ME", "HbR Left ME"], "range": [[1, 0], [14, 7], [1, 0], [14, 7]]}, "legend": {"title": null, "offset": -17, "padding": 41}}
    }}
  ]
 },
 {
  "width": 440, "height": 260,
  "title": {"text": "Right Hemisphere", "frame": "group", "anchor": "middle", "offset": 42},
  "data": {"name": "d"},
  "transform": [{"filter": "datum.p == 'B'"}],
  "resolve": {"axis": {"x": "independent", "y": "independent"}},
  "layer": [
   {"mark": {"type": "area", "interpolate": "monotone", "opacity": 0.55, "clip": true},
    "encoding": {
     "x": {"field": "t", "type": "quantitative", "scale": {"domain": [0, 30], "nice": false, "zero": false}, "axis": {"orient": "bottom", "values": [10, 20, 30], "labels": false, "title": null}},
     "y": {"field": "lo", "type": "quantitative", "scale": {"domain": [-0.01, 0.015], "nice": false, "zero": false}, "axis": {"orient": "left", "values": [-0.01, -0.005, 0, 0.005, 0.01, 0.015], "labels": false, "title": null}},
     "y2": {"field": "hi"},
     "fill": {"field": "s", "type": "nominal", "scale": {"range": ["#ee7a5a", "#ee7a5a", "#5050b0", "#5050b0"]}, "legend": null}
    }},
   {"mark": {"type": "line", "interpolate": "monotone", "strokeWidth": 5, "clip": true},
    "encoding": {
     "x": {"field": "t", "type": "quantitative", "scale": {"domain": [0, 30], "nice": false, "zero": false}, "axis": {"orient": "top", "values": [10, 20], "labels": false, "title": null}},
     "y": {"field": "y", "type": "quantitative", "scale": {"domain": [-0.01, 0.015], "nice": false, "zero": false}, "axis": {"orient": "right", "values": [-0.01, -0.005, 0, 0.005, 0.01, 0.015], "labels": false, "title": null}},
     "color": {"field": "s", "type": "nominal", "scale": {"domain": ["HbO Right ME", "HbO Left ME", "HbR Right ME", "HbR Left ME"], "range": ["#e41f27", "#e41f27", "#2a2a96", "#2a2a96"]}, "legend": {"title": null, "offset": -17, "padding": 41}},
     "strokeDash": {"field": "s", "type": "nominal", "scale": {"domain": ["HbO Right ME", "HbO Left ME", "HbR Right ME", "HbR Left ME"], "range": [[1, 0], [14, 7], [1, 0], [14, 7]]}, "legend": {"title": null, "offset": -17, "padding": 41}}
    }}
  ]
 }
 ]
},
{
 "spacing": 41,
 "resolve": {"scale": {"color": "independent", "strokeDash": "independent", "fill": "independent"}},
 "vconcat": [
 {
  "title": {"text": "Run 3", "orient": "left", "angle": 0, "align": "left", "baseline": "middle", "anchor": "middle", "frame": "group", "offset": 74, "dy": 131, "fontSize": 36},
  "spacing": 36,
  "hconcat": [
  {
   "width": 440, "height": 258,
   "data": {"name": "d"},
   "transform": [{"filter": "datum.p == 'C'"}],
   "resolve": {"axis": {"x": "independent", "y": "independent"}},
   "layer": [
    {"mark": {"type": "area", "interpolate": "monotone", "opacity": 0.55, "clip": true},
     "encoding": {
      "x": {"field": "t", "type": "quantitative", "scale": {"domain": [0, 30], "nice": false, "zero": false}, "axis": {"orient": "bottom", "values": [10, 20, 30], "labels": false, "title": null}},
      "y": {"field": "lo", "type": "quantitative", "scale": {"domain": [-0.01, 0.025], "nice": false, "zero": false}, "axis": {"orient": "left", "values": [-0.01, -0.005, 0, 0.005, 0.01, 0.015, 0.02, 0.025], "labelExpr": "['-0.005','','-0.01','0.005','','0.015','','0.025'][round(datum.value*200)+2]", "title": "Conc. change"}},
      "y2": {"field": "hi"},
      "fill": {"field": "s", "type": "nominal", "scale": {"range": ["#ee7a5a", "#ee7a5a", "#5050b0", "#5050b0"]}, "legend": null}
     }},
    {"mark": {"type": "line", "interpolate": "monotone", "strokeWidth": 5, "clip": true},
     "encoding": {
      "x": {"field": "t", "type": "quantitative", "scale": {"domain": [0, 30], "nice": false, "zero": false}, "axis": {"orient": "top", "values": [10, 20], "labels": false, "title": null}},
      "y": {"field": "y", "type": "quantitative", "scale": {"domain": [-0.01, 0.025], "nice": false, "zero": false}, "axis": {"orient": "right", "values": [-0.01, -0.005, 0, 0.005, 0.01, 0.015, 0.02, 0.025], "labels": false, "title": null}},
      "color": {"field": "s", "type": "nominal", "scale": {"domain": ["HbO Right ME", "HbO Left ME", "HbR Right ME", "HbR Left ME"], "range": ["#e41f27", "#e41f27", "#2a2a96", "#2a2a96"]}, "legend": {"title": null, "offset": -25, "padding": 49}},
      "strokeDash": {"field": "s", "type": "nominal", "scale": {"domain": ["HbO Right ME", "HbO Left ME", "HbR Right ME", "HbR Left ME"], "range": [[1, 0], [14, 7], [1, 0], [14, 7]]}, "legend": {"title": null, "offset": -25, "padding": 49}}
     }}
   ]
  },
  {
   "width": 440, "height": 258,
   "data": {"name": "d"},
   "transform": [{"filter": "datum.p == 'D'"}],
   "resolve": {"axis": {"x": "independent", "y": "independent"}},
   "layer": [
    {"mark": {"type": "area", "interpolate": "monotone", "opacity": 0.55, "clip": true},
     "encoding": {
      "x": {"field": "t", "type": "quantitative", "scale": {"domain": [0, 30], "nice": false, "zero": false}, "axis": {"orient": "bottom", "values": [10, 20, 30], "labels": false, "title": null}},
      "y": {"field": "lo", "type": "quantitative", "scale": {"domain": [-0.01, 0.025], "nice": false, "zero": false}, "axis": {"orient": "left", "values": [-0.01, -0.005, 0, 0.005, 0.01, 0.015, 0.02, 0.025], "labels": false, "title": null}},
      "y2": {"field": "hi"},
      "fill": {"field": "s", "type": "nominal", "scale": {"range": ["#ee7a5a", "#ee7a5a", "#5050b0", "#5050b0"]}, "legend": null}
     }},
    {"mark": {"type": "line", "interpolate": "monotone", "strokeWidth": 5, "clip": true},
     "encoding": {
      "x": {"field": "t", "type": "quantitative", "scale": {"domain": [0, 30], "nice": false, "zero": false}, "axis": {"orient": "top", "values": [10, 20], "labels": false, "title": null}},
      "y": {"field": "y", "type": "quantitative", "scale": {"domain": [-0.01, 0.025], "nice": false, "zero": false}, "axis": {"orient": "right", "values": [-0.01, -0.005, 0, 0.005, 0.01, 0.015, 0.02, 0.025], "labels": false, "title": null}},
      "color": {"field": "s", "type": "nominal", "scale": {"domain": ["HbO Right ME", "HbO Left ME", "HbR Right ME", "HbR Left ME"], "range": ["#e41f27", "#e41f27", "#2a2a96", "#2a2a96"]}, "legend": {"title": null, "offset": -25, "padding": 49}},
      "strokeDash": {"field": "s", "type": "nominal", "scale": {"domain": ["HbO Right ME", "HbO Left ME", "HbR Right ME", "HbR Left ME"], "range": [[1, 0], [14, 7], [1, 0], [14, 7]]}, "legend": {"title": null, "offset": -25, "padding": 49}}
     }}
   ]
  }
  ]
 },
 {
  "title": {"text": "Run 4", "orient": "left", "angle": 0, "align": "left", "baseline": "middle", "anchor": "middle", "frame": "group", "offset": 74, "dy": 134, "fontSize": 36},
  "spacing": 25,
  "hconcat": [
  {
   "width": 440, "height": 262,
   "data": {"name": "d"},
   "transform": [{"filter": "datum.p == 'E'"}],
   "resolve": {"axis": {"x": "independent", "y": "independent"}},
   "layer": [
    {"mark": {"type": "area", "interpolate": "monotone", "opacity": 0.55, "clip": true},
     "encoding": {
      "x": {"field": "t", "type": "quantitative", "scale": {"domain": [0, 30], "nice": false, "zero": false}, "axis": {"orient": "bottom", "values": [10, 20, 30], "labelPadding": 17, "labelFontSize": 22, "title": "Time (s)", "titleFontSize": 26, "titlePadding": 26}},
      "y": {"field": "lo", "type": "quantitative", "scale": {"domain": [-0.015, 0.025], "nice": false, "zero": false}, "axis": {"orient": "left", "values": [-0.015, -0.01, -0.005, 0, 0.005, 0.01, 0.015, 0.02, 0.025], "labelExpr": "['-0.015','','-0.005','','0.005','','0.015','','0.025'][round(datum.value*200)+3]", "title": "Conc. change"}},
      "y2": {"field": "hi"},
      "fill": {"field": "s", "type": "nominal", "scale": {"range": ["#ee7a5a", "#ee7a5a", "#5050b0", "#5050b0"]}, "legend": null}
     }},
    {"mark": {"type": "line", "interpolate": "monotone", "strokeWidth": 5, "clip": true},
     "encoding": {
      "x": {"field": "t", "type": "quantitative", "scale": {"domain": [0, 30], "nice": false, "zero": false}, "axis": {"orient": "top", "values": [10, 20], "labels": false, "title": null}},
      "y": {"field": "y", "type": "quantitative", "scale": {"domain": [-0.015, 0.025], "nice": false, "zero": false}, "axis": {"orient": "right", "values": [-0.015, -0.01, -0.005, 0, 0.005, 0.01, 0.015, 0.02, 0.025], "labels": false, "title": null}},
      "color": {"field": "s", "type": "nominal", "scale": {"domain": ["HbO Right MI", "HbO Left MI", "HbR Right MI", "HbR Left MI"], "range": ["#e41f27", "#e41f27", "#2a2a96", "#2a2a96"]}, "legend": {"title": null, "offset": -9, "padding": 23}},
      "strokeDash": {"field": "s", "type": "nominal", "scale": {"domain": ["HbO Right MI", "HbO Left MI", "HbR Right MI", "HbR Left MI"], "range": [[1, 0], [14, 7], [1, 0], [14, 7]]}, "legend": {"title": null, "offset": -9, "padding": 23}}
     }}
   ]
  },
  {
   "width": 440, "height": 262,
   "data": {"name": "d"},
   "transform": [{"filter": "datum.p == 'F'"}],
   "resolve": {"axis": {"x": "independent", "y": "independent"}},
   "layer": [
    {"mark": {"type": "area", "interpolate": "monotone", "opacity": 0.55, "clip": true},
     "encoding": {
      "x": {"field": "t", "type": "quantitative", "scale": {"domain": [0, 30], "nice": false, "zero": false}, "axis": {"orient": "bottom", "values": [10, 20, 30], "labelPadding": 17, "labelFontSize": 22, "title": "Time (s)", "titleFontSize": 26, "titlePadding": 26}},
      "y": {"field": "lo", "type": "quantitative", "scale": {"domain": [-0.015, 0.025], "nice": false, "zero": false}, "axis": {"orient": "left", "values": [-0.015, -0.01, -0.005, 0, 0.005, 0.01, 0.015, 0.02, 0.025], "labels": false, "title": null}},
      "y2": {"field": "hi"},
      "fill": {"field": "s", "type": "nominal", "scale": {"range": ["#ee7a5a", "#ee7a5a", "#5050b0", "#5050b0"]}, "legend": null}
     }},
    {"mark": {"type": "line", "interpolate": "monotone", "strokeWidth": 5, "clip": true},
     "encoding": {
      "x": {"field": "t", "type": "quantitative", "scale": {"domain": [0, 30], "nice": false, "zero": false}, "axis": {"orient": "top", "values": [10, 20], "labels": false, "title": null}},
      "y": {"field": "y", "type": "quantitative", "scale": {"domain": [-0.015, 0.025], "nice": false, "zero": false}, "axis": {"orient": "right", "values": [-0.015, -0.01, -0.005, 0, 0.005, 0.01, 0.015, 0.02, 0.025], "labels": false, "title": null}},
      "color": {"field": "s", "type": "nominal", "scale": {"domain": ["HbO Right MI", "HbO Left MI", "HbR Right MI", "HbR Left MI"], "range": ["#e41f27", "#e41f27", "#2a2a96", "#2a2a96"]}, "legend": {"title": null, "offset": -9, "padding": 23}},
      "strokeDash": {"field": "s", "type": "nominal", "scale": {"domain": ["HbO Right MI", "HbO Left MI", "HbR Right MI", "HbR Left MI"], "range": [[1, 0], [14, 7], [1, 0], [14, 7]]}, "legend": {"title": null, "offset": -9, "padding": 23}}
     }}
   ]
  }
  ]
 }
 ]
}
]
}
